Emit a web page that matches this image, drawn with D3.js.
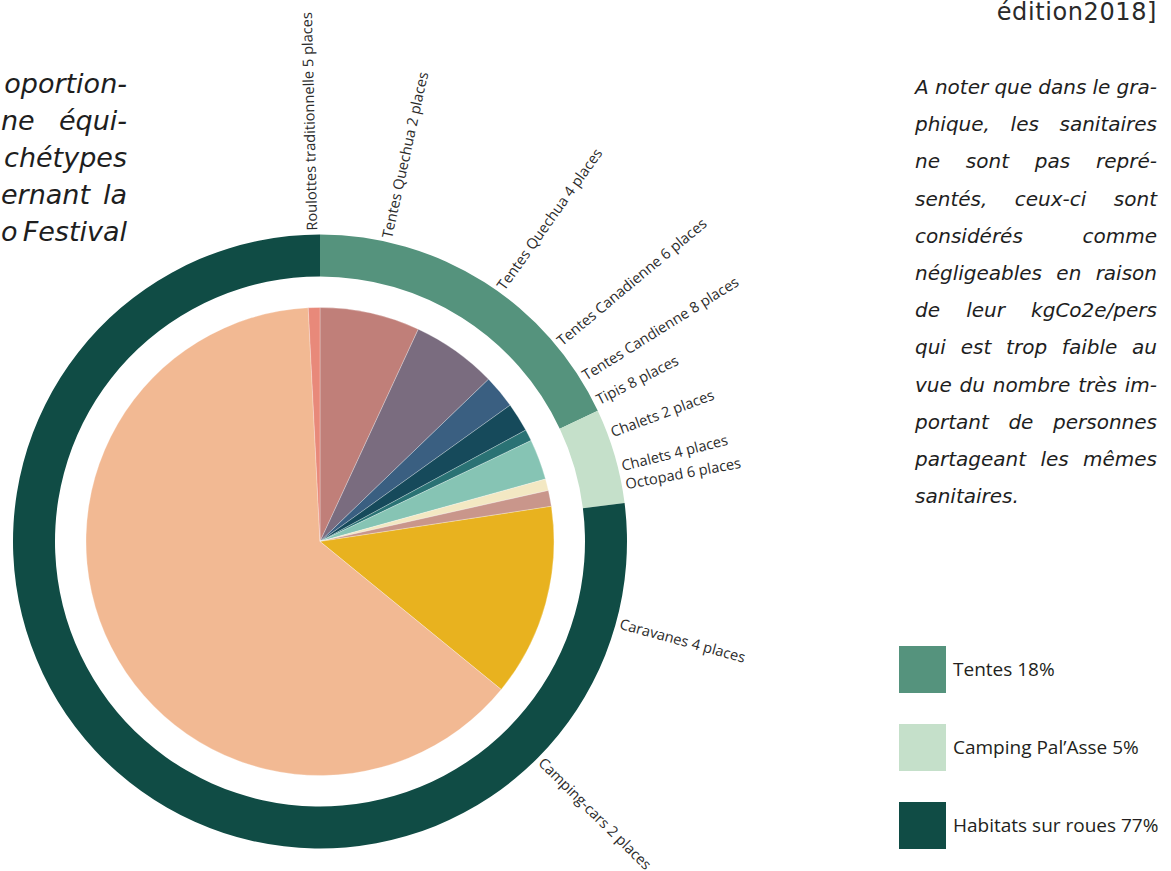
<!DOCTYPE html>
<html>
<head>
<meta charset="utf-8">
<script src="https://cdn.jsdelivr.net/npm/d3@7"></script>
<style>
  body { margin: 0; background: #fff; }
</style>
</head>
<body>
<svg id="chart" width="1171" height="871"></svg>
<script>
// slices of the inner pie, clockwise from 12 o'clock (share of places, %)
const categories = [
  "Tentes Quechua 2 places", "Tentes Quechua 4 places", "Tentes Canadienne 6 places",
  "Tentes Candienne 8 places", "Tipis 8 places", "Chalets 2 places", "Chalets 4 places",
  "Octopad 6 places", "Caravanes 4 places", "Camping-cars 2 places",
  "Roulottes traditionnelle 5 places"
];
const values = [6.9, 5.9, 2.3, 2.0, 0.8, 2.8, 0.8, 1.1, 13.3, 63.3, 0.8];
const sliceColors = ["#C07F79", "#7A6C7F", "#3A5F81", "#164A5B", "#2A7274", "#86C4B4",
                     "#F3E8C3", "#C9968B", "#E8B21F", "#F2B993", "#E8897A"];
// where the label sits inside its slice (0 = start, 1 = end)
const labelAt = [0.5, 0.5, 0.5, 0.5, 0.5, 0.5, 0.5, 0.5, 0.5, 0.024, 0.5];

// outer ring = groups
const groups = ["Tentes 18%", "Camping Pal’Asse 5%", "Habitats sur roues 77%"];
const groupValues = [18, 5, 77];
const groupColors = ["#55937D", "#C5E0CA", "#104C45"];

const leftLines = [["oportion-"], ["ne", "équi-"], ["chétypes"], ["ernant", "la"], ["o", "Festival"]];
const rightLines = [
  "A noter que dans le gra-", "phique, les sanitaires", "ne sont pas repré-",
  "sentés, ceux-ci sont", "considérés comme", "négligeables en raison",
  "de leur kgCo2e/pers", "qui est trop faible au", "vue du nombre très im-",
  "portant de personnes", "partageant les mêmes", "sanitaires."
];
const titleTail = "édition2018]";

const svg = d3.select("#chart");
const cx = 320, cy = 541.5;
const rPie = 234, rRingIn = 265, rRingOut = 307, rLabel = 311;

const pie = d3.pie().sort(null).value(d => d);
const slices = pie(values);
const ring = pie(groupValues);

const g = svg.append("g").attr("transform", `translate(${cx},${cy})`);

// outer ring
g.selectAll("path.ring")
  .data(ring)
  .enter()
  .append("path")
  .attr("class", "ring")
  .attr("d", d3.arc().innerRadius(rRingIn).outerRadius(rRingOut))
  .attr("fill", (d, i) => groupColors[i]);

// inner pie
g.selectAll("path.slice")
  .data(slices)
  .enter()
  .append("path")
  .attr("class", "slice")
  .attr("d", d3.arc().innerRadius(0).outerRadius(rPie))
  .attr("fill", (d, i) => sliceColors[i])
  .attr("stroke", "rgba(255,255,255,0.45)")
  .attr("stroke-width", 0.6);

// radial labels
g.selectAll("text.lbl")
  .data(slices)
  .enter()
  .append("text")
  .attr("class", "lbl")
  .attr("transform", (d, i) => {
    const a = d.startAngle + (d.endAngle - d.startAngle) * labelAt[i];
    const x = rLabel * Math.sin(a), y = -rLabel * Math.cos(a);
    return `translate(${x},${y}) rotate(${a * 180 / Math.PI - 90})`;
  })
  .attr("dy", "0.35em")
  .attr("font-family", "'Open Sans', sans-serif")
  .attr("font-size", 14.6)
  .attr("fill", "#2b2b2b")
  .text((d, i) => categories[i]);

// justified paragraph lines
function justify(words, x0, x1, y, font) {
  const nodes = words.map(w => svg.append("text")
    .attr("y", y)
    .attr("font-family", font.family)
    .attr("font-size", font.size)
    .attr("font-style", "italic")
    .attr("fill", "#1e1e1e")
    .text(w));
  const widths = nodes.map(n => n.node().getComputedTextLength());
  if (x0 === null || words.length === 1) {
    nodes[0].attr("x", x1).attr("text-anchor", "end");
    return;
  }
  const gap = (x1 - x0 - d3.sum(widths)) / (words.length - 1);
  let x = x0;
  nodes.forEach((n, i) => { n.attr("x", x); x += widths[i] + gap; });
}

const paraFont = { family: "'DejaVu Sans', sans-serif", size: 20 };
leftLines.forEach((words, i) => {
  justify(words, words.length > 1 ? 1 : null, 127, 93 + i * 37, { family: paraFont.family, size: 27 });
});

rightLines.forEach((line, i) => {
  const y = 94 + i * 37.2;
  if (i === rightLines.length - 1) {
    svg.append("text").attr("x", 915).attr("y", y)
      .attr("font-family", paraFont.family).attr("font-size", paraFont.size)
      .attr("font-style", "italic").attr("fill", "#1e1e1e").text(line);
  } else {
    justify(line.split(" "), 915, 1157, y, paraFont);
  }
});

// title fragment (top right)
svg.append("text")
  .attr("x", 1157).attr("y", 20)
  .attr("text-anchor", "end")
  .attr("font-family", "'DejaVu Sans', sans-serif")
  .attr("font-size", 24)
  .attr("letter-spacing", 0.6)
  .attr("fill", "#2a2a2a")
  .text(titleTail);

// legend
const legend = svg.append("g").attr("transform", "translate(899,646)");
const item = legend.selectAll("g")
  .data(groups)
  .enter()
  .append("g")
  .attr("transform", (d, i) => `translate(0,${i * 78})`);
item.append("rect")
  .attr("width", 47).attr("height", 47)
  .attr("fill", (d, i) => groupColors[i]);
item.append("text")
  .attr("x", 54).attr("y", 29.5)
  .attr("font-family", "'Open Sans', sans-serif")
  .attr("font-size", 19)
  .attr("fill", "#231f20")
  .text(d => d);
</script>
</body>
</html>
